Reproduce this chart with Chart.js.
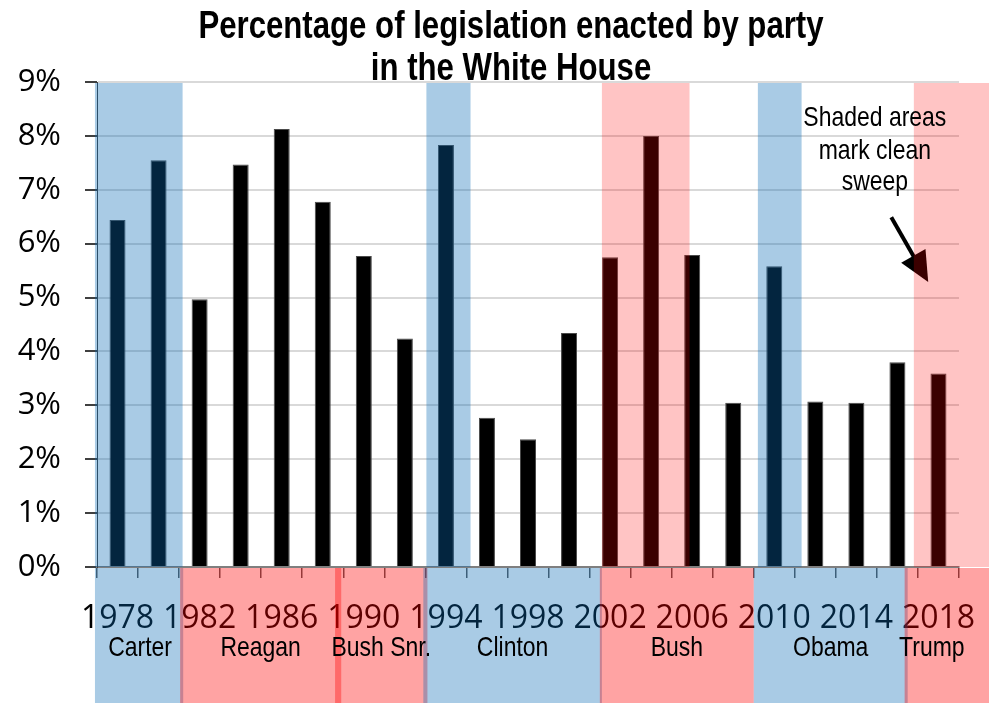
<!DOCTYPE html>
<html>
<head>
<meta charset="utf-8">
<script src="https://cdn.jsdelivr.net/npm/chart.js@4/dist/chart.umd.min.js"></script>
<style>
  html, body { margin: 0; padding: 0; background: #fff; overflow: hidden; }
  canvas { display: block; }
</style>
</head>
<body>
<canvas id="legislation-chart" width="989" height="703"></canvas>
<script>
// share of bills enacted, one bar per Congress start year
const years = ['1978', '1980', '1982', '1984', '1986', '1988', '1990', '1992', '1994', '1996',
  '1998', '2000', '2002', '2004', '2006', '2008', '2010', '2012', '2014', '2016', '2018'];
const enactedPct = [6.44, 7.55, 4.97, 7.47, 8.13, 6.78, 5.77, 4.24, 7.83, 2.77,
  2.37, 4.34, 5.75, 8.0, 5.79, 3.05, 5.58, 3.07, 3.05, 3.80, 3.59];
const yTicks = [0, 1, 2, 3, 4, 5, 6, 7, 8, 9];

// presidencies (band under the axis)
const presidents = ['Carter', 'Reagan', 'Bush Snr.', 'Clinton', 'Bush', 'Obama', 'Trump'];
const presidentParty = ['D', 'R', 'R', 'D', 'R', 'D', 'R'];
const termStart = [1976.9, 1981.05, 1988.6, 1992.9, 2001.5, 2009.0, 2016.35];
const termEnd = [1981.2, 1988.9, 1993.1, 2001.6, 2009.0, 2016.5, 2021];

// periods where one party held White House + both chambers
const sweepParty = ['D', 'D', 'R', 'D', 'R'];
const sweepStart = [1976.9, 1993.05, 2001.6, 2009.2, 2016.8];
const sweepEnd = [1981.17, 1995.2, 2005.87, 2011.33, 2021];

// first installed family from a list (compared against generic fallbacks)
function pickFont(list) {
  const c = document.createElement('canvas').getContext('2d');
  const probe = 'mmmmwwwwlllii 1234567890';
  for (const fam of list) {
    let ok = false;
    for (const base of ['monospace', 'serif']) {
      c.font = '40px ' + base;
      const w0 = c.measureText(probe).width;
      c.font = "40px '" + fam + "', " + base;
      if (c.measureText(probe).width !== w0) ok = true;
    }
    if (ok) return "'" + fam + "'";
  }
  return 'sans-serif';
}
const FONT_SANS = pickFont(['Liberation Sans', 'Arial', 'Noto Sans', 'DejaVu Sans']);
const FONT_NUM = pickFont(['Open Sans', 'Noto Sans', 'Liberation Sans', 'DejaVu Sans']);
const NARROW = 0.82;   // horizontal squeeze to get a condensed face

const plotTint = { D: 'rgba(8,105,181,0.35)', R: 'rgba(255,0,0,0.23)' };
const bandTint = { D: 'rgba(8,105,181,0.35)', R: 'rgba(255,0,0,0.36)' };

function yearToX(xs, year) {
  const x0 = xs.getPixelForValue(0);
  const step = xs.getPixelForValue(1) - x0;
  return x0 + (year - Number(years[0])) / 2 * step;
}

function narrowText(ctx, text, x, y) {
  ctx.save();
  ctx.translate(x, y);
  ctx.scale(NARROW, 1);
  ctx.fillText(text, 0, 0);
  ctx.restore();
}

const overlays = {
  id: 'overlays',
  afterDatasetsDraw(chart) {
    const { ctx, chartArea, scales } = chart;
    const xs = scales.x, ys = scales.y;
    ctx.save();
    // arrow pointing at the latest sweep
    const ax0 = yearToX(xs, 2015.7), ay0 = ys.getPixelForValue(6.49);
    const ax1 = yearToX(xs, 2017.5), ay1 = ys.getPixelForValue(5.29);
    const ang = Math.atan2(ay1 - ay0, ax1 - ax0);
    const headLen = 30, headW = 14;
    const bx = ax1 - headLen * Math.cos(ang), by = ay1 - headLen * Math.sin(ang);
    ctx.strokeStyle = '#000';
    ctx.lineWidth = 4;
    ctx.beginPath();
    ctx.moveTo(ax0, ay0);
    ctx.lineTo(bx + 4 * Math.cos(ang), by + 4 * Math.sin(ang));
    ctx.stroke();
    ctx.fillStyle = '#000';
    ctx.beginPath();
    ctx.moveTo(ax1, ay1);
    ctx.lineTo(bx + headW * Math.sin(ang), by - headW * Math.cos(ang));
    ctx.lineTo(bx - headW * Math.sin(ang), by + headW * Math.cos(ang));
    ctx.closePath();
    ctx.fill();

    // clean sweep shading over the plot
    for (let i = 0; i < sweepParty.length; i++) {
      const l = yearToX(xs, sweepStart[i]);
      const r = yearToX(xs, sweepEnd[i]);
      ctx.fillStyle = plotTint[sweepParty[i]];
      ctx.fillRect(l, chartArea.top + 1, r - l, chartArea.bottom - chartArea.top - 1);
    }
    ctx.restore();
  },
  afterDraw(chart) {
    const { ctx, chartArea, scales, height } = chart;
    const xs = scales.x;
    ctx.save();
    // presidency bands below the axis
    const top = chartArea.bottom + 1;
    for (let i = 0; i < presidents.length; i++) {
      const l = yearToX(xs, termStart[i]);
      const r = yearToX(xs, termEnd[i]);
      ctx.fillStyle = bandTint[presidentParty[i]];
      ctx.fillRect(l, top, r - l, height - top);
    }
    ctx.fillStyle = '#000';
    ctx.textAlign = 'center';
    ctx.textBaseline = 'alphabetic';
    ctx.font = '28px ' + FONT_SANS;
    for (let i = 0; i < presidents.length; i++) {
      const l = Math.max(yearToX(xs, termStart[i]), chartArea.left);
      const r = Math.min(yearToX(xs, termEnd[i]), chartArea.right);
      narrowText(ctx, presidents[i], (l + r) / 2, 656);
    }

    // note
    ctx.font = '28px ' + FONT_SANS;
    const nx = yearToX(xs, 2014.9);
    narrowText(ctx, 'Shaded areas', nx, 126);
    narrowText(ctx, 'mark clean', nx, 159);
    narrowText(ctx, 'sweep', nx, 190);

    // title
    ctx.font = 'bold 38px ' + FONT_SANS;
    narrowText(ctx, 'Percentage of legislation enacted by party', 511, 38);
    narrowText(ctx, 'in the White House', 511, 80);
    ctx.restore();
  }
};

new Chart(document.getElementById('legislation-chart'), {
  type: 'bar',
  data: {
    labels: years,
    datasets: [{
      data: enactedPct,
      backgroundColor: '#000',
      borderColor: '#4a4a4a',
      borderWidth: 1,
      barPercentage: 0.39,
      categoryPercentage: 1
    }]
  },
  options: {
    responsive: false,
    animation: false,
    layout: { padding: { top: 82, right: 30, left: 0, bottom: 0 } },
    plugins: { legend: { display: false }, tooltip: { enabled: false }, title: { display: false } },
    scales: {
      x: {
        afterFit(scale) { scale.height = 136; scale.paddingLeft = 0; scale.paddingRight = 0; },
        grid: { display: true, drawOnChartArea: false, offset: true, tickLength: 11, color: '#595959', lineWidth: 1.5 },
        border: { color: '#7f7f7f', width: 2 },
        ticks: {
          autoSkip: false,
          maxRotation: 0,
          padding: 22,
          color: '#000',
          font: { family: FONT_NUM, size: 32 },
          callback: (v, i) => (i % 2 === 0 ? years[i] : '')
        }
      },
      y: {
        min: 0,
        max: 9,
        afterFit(scale) { scale.width = 97; },
        afterBuildTicks(scale) { scale.ticks = yTicks.map(v => ({ value: v })); },
        grid: { color: '#d9d9d9', lineWidth: 2, tickLength: 12, tickColor: '#404040' },
        border: { color: '#404040', width: 1 },
        ticks: {
          padding: 24,
          color: '#000',
          font: { family: FONT_NUM, size: 31 },
          callback: v => v + '%'
        }
      }
    }
  },
  plugins: [overlays]
});
</script>
</body>
</html>
